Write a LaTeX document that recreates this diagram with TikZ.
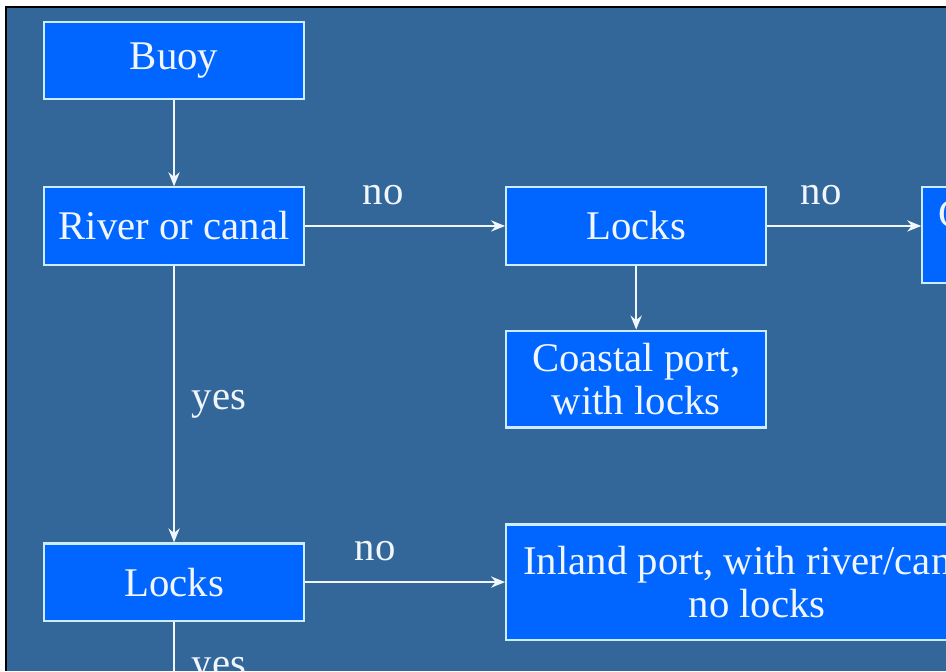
\documentclass[tikz,border=0pt]{standalone}
\usepackage{fontspec}
\setmainfont{Liberation Serif}
\usetikzlibrary{positioning,arrows.meta}
\definecolor{slide}{RGB}{51,102,153}
\definecolor{boxblue}{RGB}{0,102,255}
\definecolor{edge}{RGB}{204,236,255}
\definecolor{ink}{RGB}{240,246,252}

\begin{document}
\begin{tikzpicture}[
        box/.style={rectangle, draw=edge, fill=boxblue, line width=1.5pt,
                    minimum width=6.5cm, minimum height=1.93cm, inner sep=0pt,
                    text=ink, font=\fontsize{29}{31}\selectfont, align=center},
        arr/.style={-{Stealth[length=10pt,width=8pt]}, line width=1.2pt, ink},
        lbl/.style={text=ink, font=\fontsize{29}{31}\selectfont, inner sep=0pt}
      ]
        \useasboundingbox (0,0) rectangle (23.65,-16.775);
        \clip (0,0) rectangle (23.65,-16.775);
        \fill[white] (0,0) rectangle (23.65,-16.775);
        \fill[slide] (0.175,-0.2) rectangle (23.65,-16.775);
        \draw[black, line width=1.5pt] (0.15,-16.775) -- (0.15,-0.175) -- (23.65,-0.175);
        \node[box, anchor=north west] (buoy) at (1.075,-0.525) {Buoy};
        \node[box, below=2.15cm of buoy] (river) {River or canal};
        \node[box, right=5.0cm of river] (locks) {Locks};
        \node[box, below=1.6cm of locks, minimum height=2.42cm] (coast)
              {Coastal port,\\with locks};
        \node[box, right=3.85cm of locks.north east, anchor=north west,
              minimum width=6.0cm, minimum height=2.4cm] (coastno)
              {Coastal port,\\no locks};
        \node[box, below=6.92cm of river] (locksb) {Locks};
        \node[box, right=5.0cm of locksb, minimum width=12.55cm,
              minimum height=2.88cm] (inland)
              {Inland port, with river/canal,\\no locks};
        \coordinate[below=2.5cm of locksb] (next);
        \draw[arr] (buoy) -- (river);
        \draw[arr] (river) -- node[lbl, above=0.5cm, pos=0.39] {no} (locks);
        \draw[arr] (locks) -- node[lbl, above=0.5cm, pos=0.35] {no}
              (locks.east -| coastno.west);
        \draw[arr] (locks) -- (coast);
        \draw[arr] (river) -- node[lbl, right=0.42cm] {yes} (locksb);
        \draw[arr] (locksb) -- node[lbl, above=0.5cm, pos=0.35] {no} (inland);
        \draw[arr] (locksb) -- node[lbl, right=0.42cm, pos=0.5] {yes} (next);
      \end{tikzpicture}
\end{document}
